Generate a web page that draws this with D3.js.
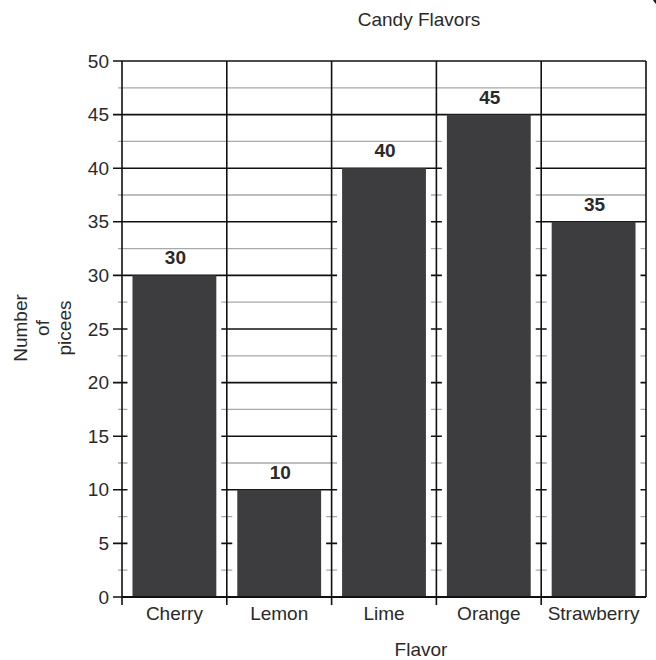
<!DOCTYPE html>
<html>
<head>
<meta charset="utf-8">
<script src="https://cdn.jsdelivr.net/npm/d3@7"></script>
<style>
body{margin:0;background:#fff;}
text{font-family:"Liberation Sans",Arial,sans-serif;fill:#2a2a2a;}
</style>
</head>
<body>
<div id="chart"></div>
<script>
// data
var flavors = ["Cherry", "Lemon", "Lime", "Orange", "Strawberry"];
var pieces = [30, 10, 40, 45, 35];
var yTicks = [0, 5, 10, 15, 20, 25, 30, 35, 40, 45, 50];
var yMinor = [2.5, 7.5, 12.5, 17.5, 22.5, 27.5, 32.5, 37.5, 42.5, 47.5];

var w = 656;
var h = 660;
var padL = 122, padR = 646, padT = 61, padB = 597;
var svgChart, xScale, yScale;

function setScales(){
  xScale = d3.scaleBand()
    .domain(flavors)
    .range([padL, padR])
    .padding(0);
  yScale = d3.scaleLinear()
    .domain([0, 50])
    .range([padB, padT]);
}

function drawGrid(){
  // minor grey lines
  svgChart.selectAll(".minor")
    .data(yMinor)
    .enter().append("line")
    .attr("x1", padL - 4)
    .attr("x2", padR)
    .attr("y1", function(d){return yScale(d);})
    .attr("y2", function(d){return yScale(d);})
    .attr("stroke", "#a8a8a8")
    .attr("stroke-width", 1.3);

  // major lines + ticks
  svgChart.selectAll(".major")
    .data(yTicks)
    .enter().append("line")
    .attr("x1", padL - 9)
    .attr("x2", padR)
    .attr("y1", function(d){return yScale(d);})
    .attr("y2", function(d){return yScale(d);})
    .attr("stroke", "#111")
    .attr("stroke-width", 1.6);

  svgChart.selectAll(".ylab")
    .data(yTicks)
    .enter().append("text")
    .attr("x", padL - 13)
    .attr("y", function(d){return yScale(d);})
    .attr("dy", "0.35em")
    .attr("text-anchor", "end")
    .style("font-size", "19px")
    .text(function(d){return d;});
}

function drawBars(){
  var bw = xScale.bandwidth();
  // white gaps at bar sides
  svgChart.selectAll(".gap")
    .data(flavors)
    .enter().append("rect")
    .attr("x", function(d){return xScale(d) + bw*0.1 - 5;})
    .attr("y", function(d, i){return yScale(pieces[i]) + 2;})
    .attr("width", bw*0.8 + 10)
    .attr("height", function(d, i){return padB - yScale(pieces[i]) - 3;})
    .attr("fill", "#fff");

  svgChart.selectAll(".bar")
    .data(flavors)
    .enter().append("rect")
    .attr("x", function(d){return xScale(d) + bw*0.1;})
    .attr("y", function(d, i){return yScale(pieces[i]);})
    .attr("width", bw*0.8)
    .attr("height", function(d, i){return padB - yScale(pieces[i]);})
    .attr("fill", "#3d3d40");

  svgChart.selectAll(".val")
    .data(flavors)
    .enter().append("text")
    .attr("x", function(d){return xScale(d) + bw/2 + 1;})
    .attr("y", function(d, i){return yScale(pieces[i]) - 11;})
    .attr("text-anchor", "middle")
    .style("font-size", "19px")
    .style("font-weight", "bold")
    .text(function(d, i){return pieces[i];});
}

function drawAxes(){
  // band dividers (vertical lines), extending as ticks below the axis
  var edges = flavors.map(function(d){return xScale(d);});
  svgChart.selectAll(".vline")
    .data(edges)
    .enter().append("line")
    .attr("x1", function(d){return d;})
    .attr("x2", function(d){return d;})
    .attr("y1", padT)
    .attr("y2", padB + 8)
    .attr("stroke", "#111")
    .attr("stroke-width", 1.6);

  svgChart.append("line")
    .attr("x1", padR).attr("x2", padR)
    .attr("y1", padT).attr("y2", padB)
    .attr("stroke", "#111")
    .attr("stroke-width", 1.6);

  svgChart.append("line")
    .attr("x1", padL).attr("x2", padR)
    .attr("y1", padB).attr("y2", padB)
    .attr("stroke", "#111")
    .attr("stroke-width", 1.8);

  svgChart.selectAll(".xlab")
    .data(flavors)
    .enter().append("text")
    .attr("x", function(d){return xScale(d) + xScale.bandwidth()/2;})
    .attr("y", padB + 23)
    .attr("text-anchor", "middle")
    .style("font-size", "19px")
    .text(function(d){return d;});

  // text label for the x axis
  svgChart.append("text")
    .attr("x", 421)
    .attr("y", 656)
    .attr("text-anchor", "middle")
    .style("font-size", "19px")
    .text("Flavor");

  // text label for the y axis, three short lines
  var yLines = ["Number", "of", "picees"];
  svgChart.selectAll(".ytitle")
    .data(yLines)
    .enter().append("text")
    .attr("transform", function(d, i){return "translate(" + (27 + i*22) + ",328) rotate(-90)";})
    .attr("text-anchor", "middle")
    .style("font-size", "19px")
    .text(function(d){return d;});

  svgChart.append("text")
    .attr("x", 419)
    .attr("y", 26)
    .attr("text-anchor", "middle")
    .style("font-size", "19px")
    .text("Candy Flavors");
}

function runTool(){
  setScales();
  svgChart = d3.select("#chart")
    .append("svg")
    .attr("width", w)
    .attr("height", h);
  drawGrid();
  drawBars();
  drawAxes();
  // dark corner mark from the scan
  svgChart.append("circle")
    .attr("cx", 664).attr("cy", -5).attr("r", 12)
    .attr("fill", "#1a1a1a");
}

runTool();
</script>
</body>
</html>
